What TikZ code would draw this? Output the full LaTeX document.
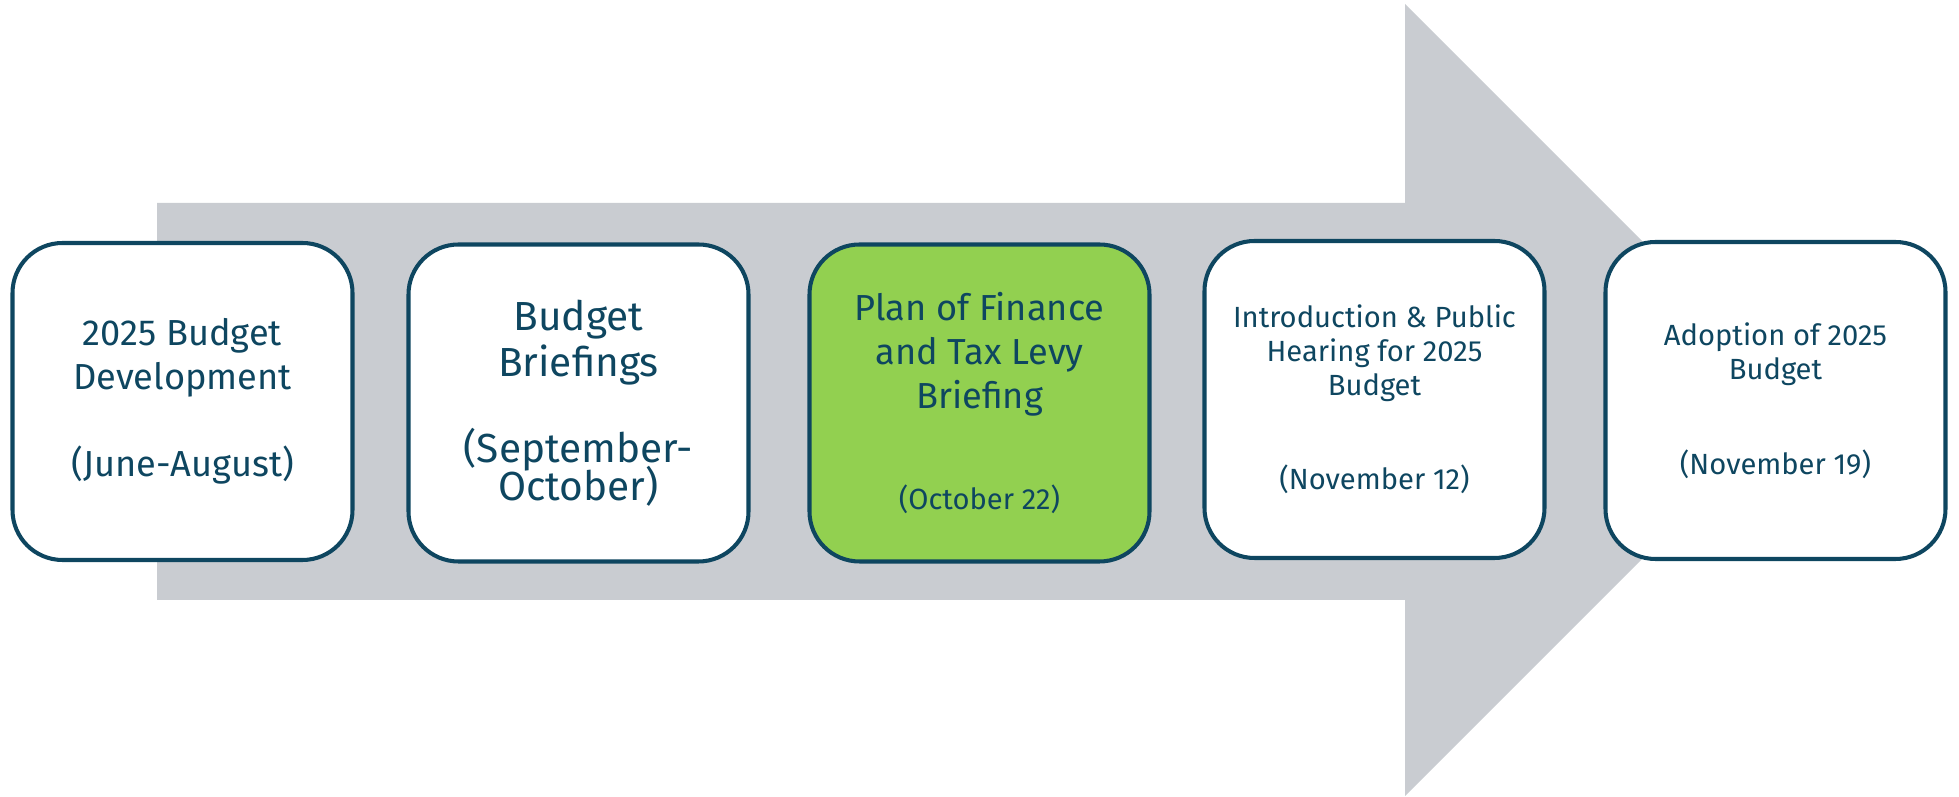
\documentclass[tikz,border=0pt]{standalone}
\usepackage{fontspec}
\setmainfont{Fira Sans}
\usepackage{xcolor}
\usetikzlibrary{positioning}
\definecolor{ink}{HTML}{0E4660}
\definecolor{track}{HTML}{C9CCD1}
\definecolor{current}{HTML}{92D050}

\begin{document}
\begin{tikzpicture}[stage/.style={draw=ink, line width=1.15pt, fill=white, rounded corners=0.5cm,
        minimum width=3.40cm, minimum height=3.17cm, align=center, text=ink, inner sep=0pt}]

        \useasboundingbox (0,0) rectangle (19.59,7.97);

        % Big grey arrow behind the stages
        \fill[track] (1.57,5.94) -- (14.05,5.94) -- (14.05,7.93) -- (18.01,3.97)
            -- (14.05,0.01) -- (14.05,1.97) -- (1.57,1.97) -- cycle;

        % Nodes for the stages
        \node[stage, font=\fontsize{10.3}{12.4}\selectfont] (dev) at (1.825,3.955)
            {2025 Budget\\Development\\[12.4pt](June-August)};
        \node[stage, font=\fontsize{11.55}{13.3}\selectfont] (brief) at (5.785,3.94)
            {Budget\\Briefings\\[11pt](September-\\[-2.4pt]October)};
        \node[stage, fill=current, font=\fontsize{10.3}{12.4}\selectfont] (levy) at (9.795,3.94)
            {Plan of Finance\\and Tax Levy\\Briefing\\[16.3pt]{\fontsize{8.3}{9.7}\selectfont (October 22)}};
        \node[stage, font=\fontsize{8.3}{9.7}\selectfont] (hear) at (13.745,3.975)
            {Introduction \& Public\\Hearing for 2025\\Budget\\[17pt](November 12)};
        \node[stage, font=\fontsize{8.3}{9.7}\selectfont] (adopt) at (17.755,3.965)
            {Adoption of 2025\\Budget\\[17.3pt](November 19)};

\end{tikzpicture}
\end{document}
